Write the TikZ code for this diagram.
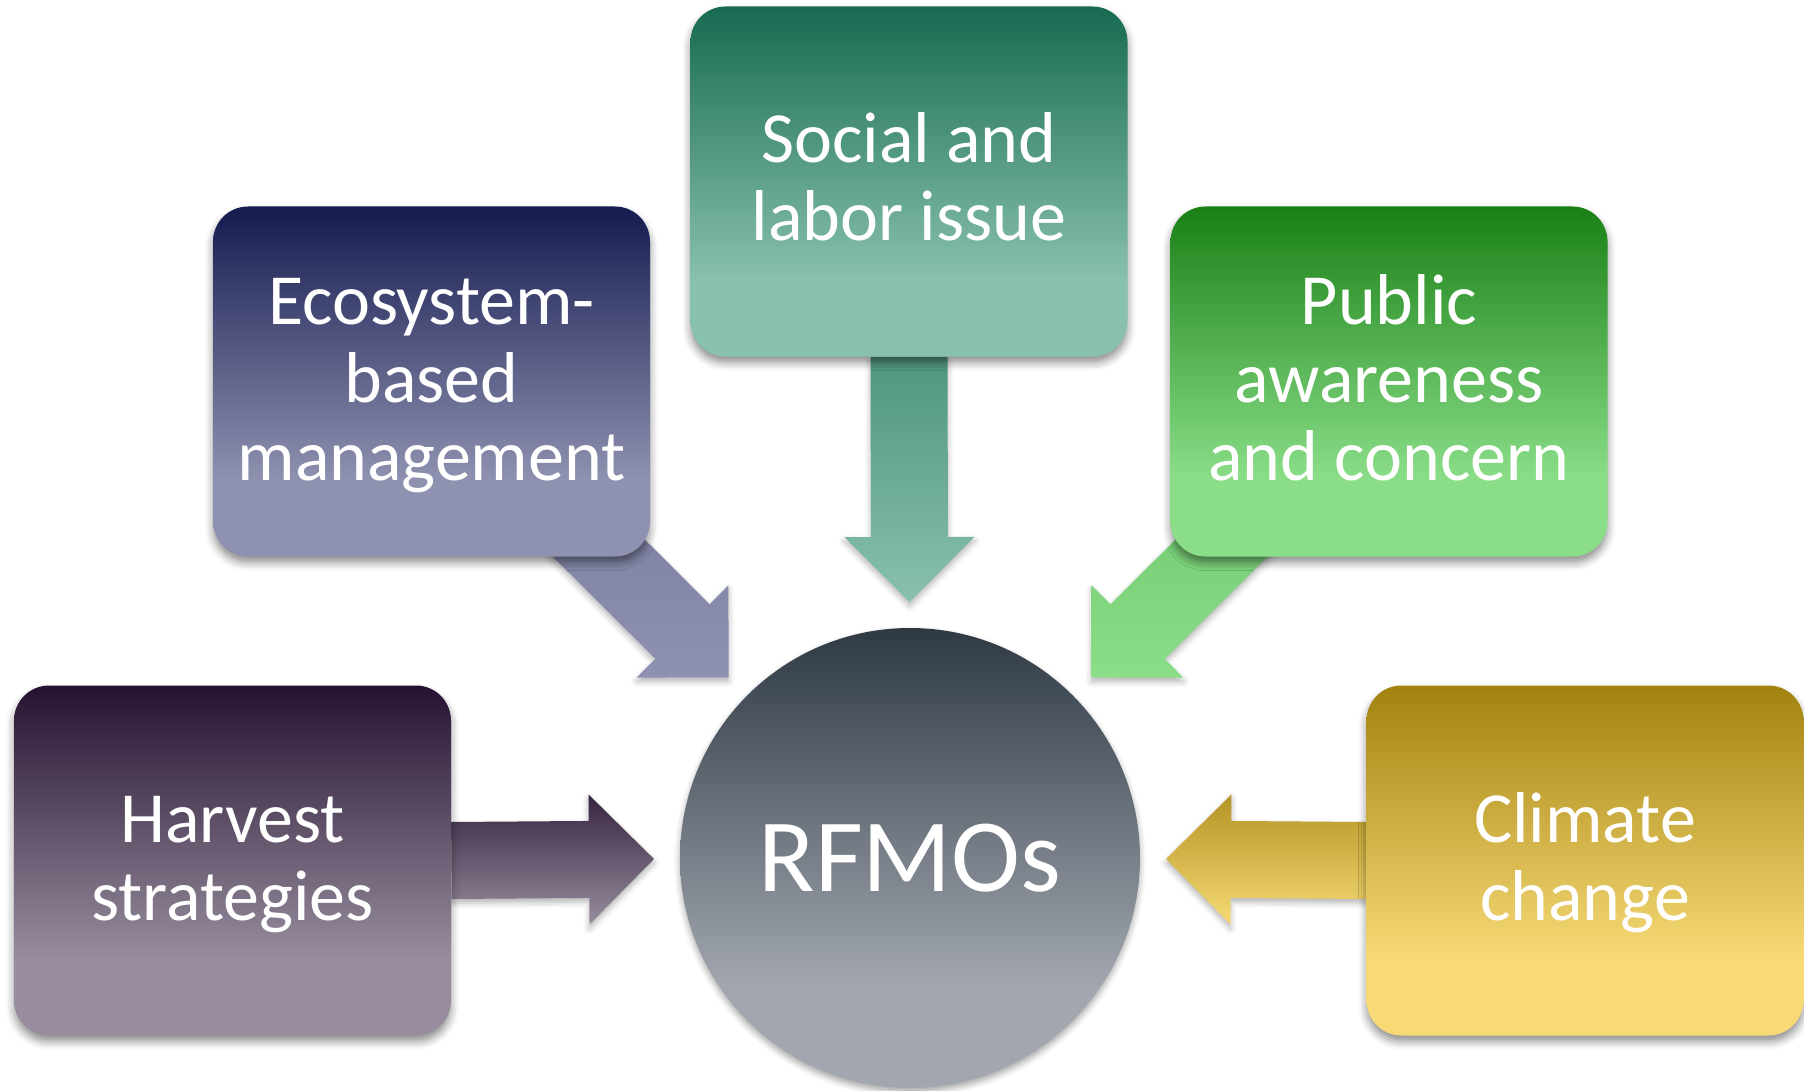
\documentclass[tikz,border=0pt]{standalone}
\usepackage{fontspec}
\setmainfont{Carlito}
\usepackage{tikz}
\usetikzlibrary{calc,backgrounds,shadows.blur}

\definecolor{ecoTop}{RGB}{22,27,80}
\definecolor{ecoBot}{RGB}{142,145,175}
\definecolor{socTop}{RGB}{23,106,81}
\definecolor{socBot}{RGB}{136,193,173}
\definecolor{pubTop}{RGB}{26,128,22}
\definecolor{pubBot}{RGB}{138,222,136}
\definecolor{harTop}{RGB}{37,18,48}
\definecolor{harBot}{RGB}{151,141,158}
\definecolor{cliTop}{RGB}{162,130,15}
\definecolor{cliBot}{RGB}{247,218,118}
\definecolor{hubTop}{RGB}{46,57,68}
\definecolor{hubBot}{RGB}{162,167,175}

\colorlet{boxtop}{black}
\colorlet{boxbot}{white}
\pgfdeclareverticalshading[boxtop,boxbot]{boxfade}{100bp}{color(0bp)=(boxbot); color(36bp)=(boxbot); color(75bp)=(boxtop); color(100bp)=(boxtop)}

% struts for the first and the last line, so every label sits the same way in its box
\newcommand\topls{\rule{0pt}{32.5pt}}
\newcommand\botls{\rule[-12pt]{0pt}{12pt}}

% block arrow from #2 to the tip #3
\newcommand\feedarrow[3]{%
  \coordinate (s) at (#2);
  \coordinate (t) at (#3);
  \coordinate (b) at ($(t)!32.5pt!(s)$);
  \path[#1] ($(s)!19.25pt!90:(t)$) -- ($(b)!19.25pt!-90:(s)$) -- ($(b)!32.5pt!-90:(s)$) -- (t)
    -- ($(b)!32.5pt!90:(s)$) -- ($(b)!19.25pt!90:(s)$) -- ($(s)!19.25pt!-90:(t)$) -- cycle;
}

\begin{document}
\begin{tikzpicture}[x=0.5pt,y=0.5pt,
  fade/.style 2 args={/utils/exec={\colorlet{boxtop}{#1}\colorlet{boxbot}{#2}}, shade, shading=boxfade},
  box/.style={rectangle, rounded corners=17.5pt, minimum width=218.5pt, minimum height=175pt,
    align=center, text=white, font=\fontsize{36}{39}\selectfont,
    blur shadow={shadow xshift=0pt, shadow yshift=-3pt, shadow blur radius=4pt, shadow opacity=45}},
  hubnode/.style={circle, minimum size=230pt, inner sep=0pt, text=white, font=\fontsize{52}{52}\selectfont,
    blur shadow={shadow xshift=0pt, shadow yshift=-2pt, shadow blur radius=3pt, shadow opacity=35}},
  arrowfill/.style 2 args={top color=#1, bottom color=#2,
    blur shadow={shadow xshift=0pt, shadow yshift=-2pt, shadow blur radius=3pt, shadow opacity=30}}
  ]
  \useasboundingbox (0,0) rectangle (1804,-1091);

  \node[box, fade={socTop}{socBot}] (soc) at (909,-181.5) {\topls Social and\\labor issue\botls};
  \node[box, fade={ecoTop}{ecoBot}] (eco) at (431.5,-381.5) {\topls Ecosystem-\\based\\management\botls};
  \node[box, fade={pubTop}{pubBot}] (pub) at (1389,-381.5) {\topls Public\\awareness\\and concern\botls};
  \node[box, fade={harTop}{harBot}] (har) at (232.5,-860.5) {\topls Harvest\\strategies\botls};
  \node[box, fade={cliTop}{cliBot}] (cli) at (1585,-860.5) {\topls Climate\\change\botls};
  \node[hubnode, fade={hubTop}{hubBot}] (hub) at (910,-858) {RFMOs};

  \begin{scope}[on background layer]
    \feedarrow{arrowfill={socTop!50!socBot}{socBot}}{soc.south}{$(hub.center)!128pt!(soc.center)$}
    \feedarrow{arrowfill={ecoBot!85!ecoTop}{ecoBot}}{$(eco.center)!0.3!(hub.center)$}{$(hub.center)!128pt!(eco.center)$}
    \feedarrow{arrowfill={pubBot!80!pubTop}{pubBot}}{$(pub.center)!0.3!(hub.center)$}{$(hub.center)!128pt!(pub.center)$}
    \feedarrow{arrowfill={harTop!85!harBot}{harBot}}{har.east}{$(hub.center)!128pt!(har.center)$}
    \feedarrow{arrowfill={cliTop!80!cliBot}{cliBot}}{cli.west}{$(hub.center)!128pt!(cli.center)$}
  \end{scope}

\end{tikzpicture}
\end{document}
